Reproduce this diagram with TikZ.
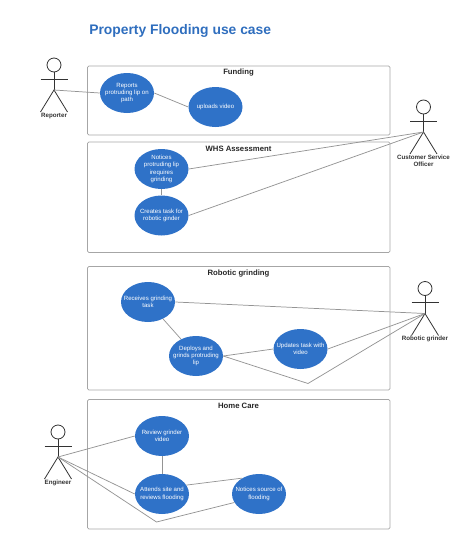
\documentclass[tikz,border=0pt]{standalone}
\usepackage{fontspec}
\setmainfont{Liberation Sans}
\usetikzlibrary{shapes.geometric}

\definecolor{ucblue}{HTML}{2F72C8}
\definecolor{titleblue}{HTML}{2F6EBE}
\newcommand{\uctext}[1]{\makebox[0pt]{\parbox[c][0pt][c]{70pt}{\vspace*{1.2pt}\centering #1}}}

\begin{document}
\begin{tikzpicture}[
  x=0.75pt,y=-0.75pt,
  usecase/.style={ellipse,fill=ucblue,text=white,inner sep=0pt,
                  minimum width=40.5pt,minimum height=30pt,
                  font=\fontsize{4.55}{5.5}\selectfont},
  sysbox/.style={draw=black!35,line width=0.6pt,rounded corners=1pt},
  systitle/.style={font=\fontsize{5.8}{7}\selectfont\bfseries,text=black!85,inner sep=0pt},
  link/.style={draw=black!42,line width=0.55pt},
  actorline/.style={draw=black!80,line width=0.6pt},
  actorname/.style={font=\fontsize{4.65}{5.5}\selectfont\bfseries,text=black!80,
                    align=center,inner sep=0pt,anchor=north}
]
\useasboundingbox (0,0) rectangle (474,543);

\node[anchor=west,inner sep=0pt,text=titleblue,font=\fontsize{10.4}{12}\selectfont\bfseries]
  (title) at (89,30.5) {Property Flooding use case};

% system boundaries
\foreach \boxname/\ytop/\ybot/\ymid/\boxlabel in {
  funding/66/135/73/{Funding},
  whs/142/252.5/149/{WHS Assessment},
  grinding/266.5/390/273.5/{Robotic grinding},
  homecare/399.5/529/406/{Home Care}}
  {
    \draw[sysbox] (87.5,\ytop) rectangle (390,\ybot);
    \node[systitle] (\boxname) at (238.5,\ymid) {\boxlabel};
  }

% use cases
\foreach \ucname/\x/\y/\uclabel in {
  reports/127/93/{Reports\\protruding lip on\\path},
  uploads/215.5/107/{uploads video},
  notices/161.5/169/{Notices\\protruding lip\\irequires\\grinding},
  creates/161.5/215.5/{Creates task for\\robotic ginder},
  receives/148/302/{Receives grinding\\task},
  deploys/196/356/{Deploys and\\grinds protruding\\lip},
  updates/300.5/349/{Updates task with\\video},
  review/162/436/{Review grinder\\video},
  attends/162/494/{Attends site and\\reviews flooding},
  source/259/494/{Notices source of\\flooding}}
  {
    \node[usecase] (\ucname) at (\x,\y) {\uctext{\uclabel}};
  }

% actors
\foreach \actor/\x/\y/\actorlabel in {
  reporter/54/65/{Reporter},
  officer/423.5/107/{Customer Service\\Officer},
  grinder/425/288.5/{Robotic grinder},
  engineer/58/432/{Engineer}}
  {
    \node[circle,draw=black!80,line width=0.6pt,fill=white,minimum size=10.5pt,inner sep=0pt]
      (\actor) at (\x,\y) {};
    \coordinate (\actor hip) at (\x,\y+25);
    \draw[actorline] (\actor) -- (\actor hip);
    \draw[actorline] (\x-13.5,\y+14) -- (\x+13.5,\y+14);
    \draw[actorline] (\x-13.5,\y+47) -- (\actor hip) -- (\x+13.5,\y+47);
    \node[actorname] (\actor name) at (\x,\y+47.5) {\actorlabel};
  }

\coordinate (bend1) at (308,383.5);
\coordinate (bend2) at (156.5,522);

\draw[link] (reporterhip) -- (reports.west);
\draw[link] (reports.east) -- (uploads.west);
\draw[link] (notices) -- (creates);
\draw[link] (notices.east) -- (officerhip);
\draw[link] (creates.east) -- (officerhip);
\draw[link] (receives) -- (deploys);
\draw[link] (receives.east) -- (grinderhip);
\draw[link] (deploys.east) -- (updates.west);
\draw[link] (updates.east) -- (grinderhip);
\draw[link] (deploys.east) -- (bend1) -- (grinderhip);
\draw[link] (review) -- (attends);
\draw[link] (engineerhip) -- (review.west);
\draw[link] (engineerhip) -- (attends.west);
\draw[link] (engineerhip) -- (bend2) -- (source.199);
\draw[link] (attends.20) -- (source.137);
\end{tikzpicture}
\end{document}
